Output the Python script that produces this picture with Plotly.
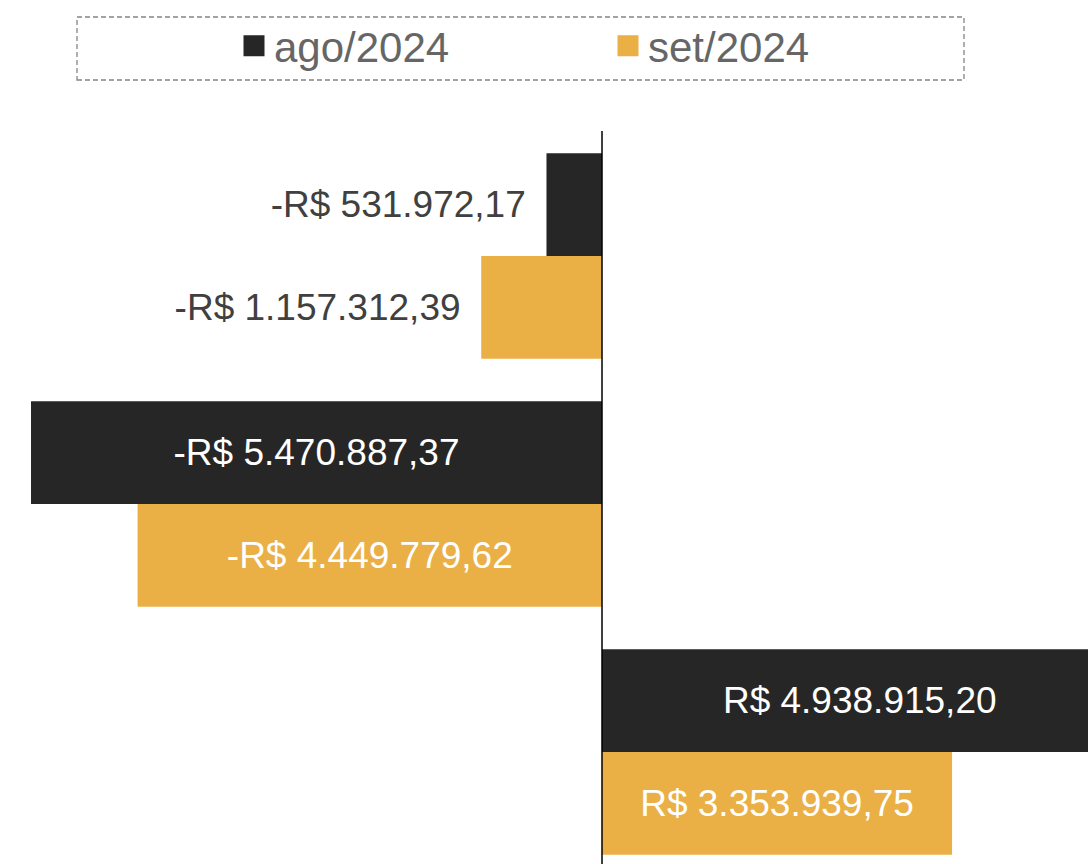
import plotly.graph_objects as go

# ---- data ----
categories = ["1", "2", "3"]
series_names = ["ago/2024", "set/2024"]
ago_2024 = [-531972.17, -5470887.37, 4938915.20]
set_2024 = [-1157312.39, -4449779.62, 3353939.75]

# ---- style ----
colors = ["#262626", "#EAB046"]
label_pos = ["outside", "inside", "inside"]
FONT = "Liberation Sans, Arial, sans-serif"
PAD = "\u00a0\u2009"

W, H = 1088, 864
TOP = 131
PH = H - TOP


def brl(v):
    s = f"{abs(v):,.2f}".replace(",", "X").replace(".", ",").replace("X", ".")
    return ("-R$ " if v < 0 else "R$ ") + s


fig = go.Figure()
for name, vals, col in zip(series_names, [ago_2024, set_2024], colors):
    texts = [brl(v) + (PAD if p == "outside" else "") for v, p in zip(vals, label_pos)]
    fig.add_trace(go.Bar(
        y=categories, x=vals, name=name, orientation="h",
        marker=dict(color=col, line=dict(width=0)),
        text=texts, textposition=label_pos,
        insidetextanchor="middle",
        insidetextfont=dict(family=FONT, size=37, color="white"),
        outsidetextfont=dict(family=FONT, size=37, color="#404040"),
        constraintext="none",
        showlegend=False,
    ))
    # legend entry (bigger square symbol)
    fig.add_trace(go.Scatter(
        x=[None], y=[None], mode="markers", name=name,
        marker=dict(symbol="square", size=16, color=col, line=dict(width=5, color=col)),
        showlegend=True,
    ))

fig.update_layout(
    width=W, height=H,
    margin=dict(l=0, r=0, t=TOP, b=0, pad=0),
    paper_bgcolor="white", plot_bgcolor="white",
    barmode="group", bargap=0.172, bargroupgap=0,
    font=dict(family=FONT),
    legend=dict(
        orientation="h", x=234 / W, xanchor="left",
        y=1 + (TOP - 46) / PH, yanchor="middle",
        font=dict(family=FONT, size=42, color="#666666"),
        entrywidth=329, entrywidthmode="pixels",
        borderwidth=0, bgcolor="rgba(0,0,0,0)",
        traceorder="normal",
    ),
    xaxis=dict(range=[-5768000, 4656500], showgrid=False, zeroline=False,
               showticklabels=False, ticks="", fixedrange=True),
    yaxis=dict(type="category", range=[2.4516, -0.504], showgrid=False,
               zeroline=False, showticklabels=False, ticks="", fixedrange=True),
    shapes=[
        dict(type="line", xref="x", yref="paper", x0=0, x1=0, y0=0, y1=1,
             line=dict(color="black", width=1.5), layer="above"),
        dict(type="rect", xref="paper", yref="paper",
             x0=77 / W, x1=964 / W,
             y0=1 + (TOP - 80) / PH, y1=1 + (TOP - 17) / PH,
             line=dict(color="#858585", width=1.3, dash="5px,3px"),
             fillcolor="rgba(0,0,0,0)", layer="above"),
    ],
)

fig.write_html(
    "out.html",
    config={"displayModeBar": False},
    post_script="document.body.style.margin='0';document.body.style.overflow='hidden';",
)
